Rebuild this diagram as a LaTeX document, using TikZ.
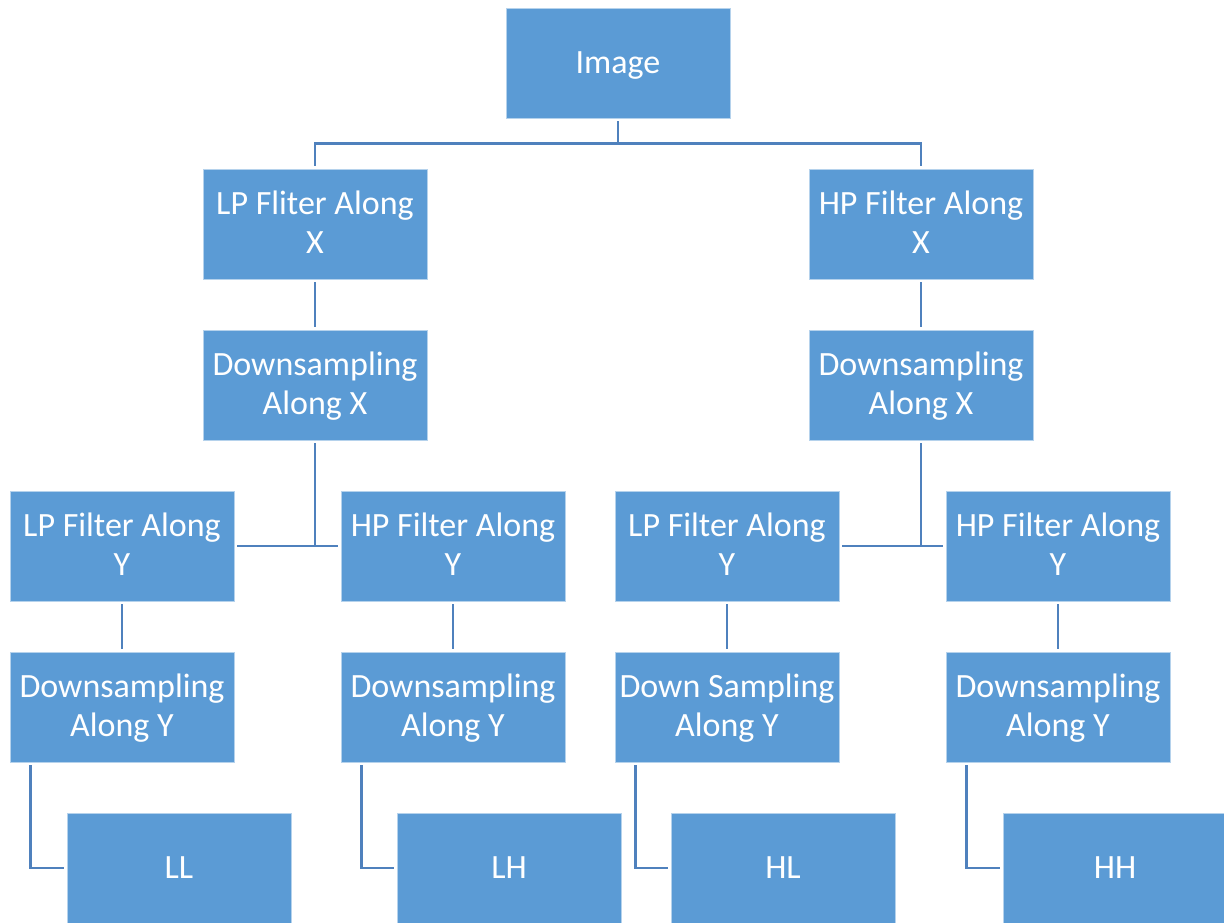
\documentclass[tikz,border=0pt]{standalone}
\usepackage{fontspec}
\setmainfont{Carlito}
\usetikzlibrary{calc}
\definecolor{boxblue}{HTML}{5B9BD5}
\definecolor{linkblue}{HTML}{4F81BD}
% fixed line strut, so every label is centred by its line metrics
\newcommand\linestrut{\rule[-8pt]{0pt}{36pt}}
\newcommand\lbl[1]{\linestrut#1\linestrut}
\tikzset{
  stage/.style={rectangle, fill=boxblue, draw=white!55!boxblue, line width=0.8pt,
    minimum width=224pt, minimum height=110pt, inner sep=0pt, align=center,
    text=white, font=\fontsize{34}{39}\selectfont},
  link/.style={draw=linkblue, line width=2.4pt, shorten <=3pt, shorten >=3pt}
}
\begin{document}
\begin{tikzpicture}[x=1pt, y=-1pt]
  \useasboundingbox (0,0) rectangle (1224,922);
  \clip (0,0) rectangle (1224,922);

  % top level
  \node[stage] (img) at (618,63) {\lbl{Image}};

  % first pass along X
  \node[stage] (lpx) at (315,224) {\lbl{LP Fliter Along\\X}};
  \node[stage] (hpx) at (921,224) {\lbl{HP Filter Along\\X}};
  \node[stage] (dsxl) at (315,385) {\lbl{Downsampling\\Along X}};
  \node[stage] (dsxr) at (921,385) {\lbl{Downsampling\\Along X}};

  % second pass along Y
  \node[stage] (lpy1) at (122,546) {\lbl{LP Filter Along\\Y}};
  \node[stage] (hpy1) at (453,546) {\lbl{HP Filter Along\\Y}};
  \node[stage] (lpy2) at (727,546) {\lbl{LP Filter Along\\Y}};
  \node[stage] (hpy2) at (1058,546) {\lbl{HP Filter Along\\Y}};
  \node[stage] (dsy1) at (122,707) {\lbl{Downsampling\\Along Y}};
  \node[stage] (dsy2) at (453,707) {\lbl{Downsampling\\Along Y}};
  \node[stage] (dsy3) at (727,707) {\lbl{Down Sampling\\Along Y}};
  \node[stage] (dsy4) at (1058,707) {\lbl{Downsampling\\Along Y}};

  % sub-bands
  \node[stage] (ll) at (179,868) {\lbl{LL}};
  \node[stage] (lh) at (509,868) {\lbl{LH}};
  \node[stage] (hl) at (783,868) {\lbl{HL}};
  \node[stage] (hh) at (1115,868) {\lbl{HH}};

  % connectors
  \draw[link] (img.south) -- ++(0,25) -| (lpx.north);
  \draw[link] (img.south) -- ++(0,25) -| (hpx.north);
  \draw[link] (lpx) -- (dsxl);
  \draw[link] (hpx) -- (dsxr);
  \draw[link] (dsxl.south) |- (lpy1.east);
  \draw[link] (dsxl.south) |- (hpy1.west);
  \draw[link] (dsxr.south) |- (lpy2.east);
  \draw[link] (dsxr.south) |- (hpy2.west);
  \draw[link] (lpy1) -- (dsy1);
  \draw[link] (hpy1) -- (dsy2);
  \draw[link] (lpy2) -- (dsy3);
  \draw[link] (hpy2) -- (dsy4);
  \draw[link] ($(dsy1.south west)+(21,0)$) |- (ll.west);
  \draw[link] ($(dsy2.south west)+(21,0)$) |- (lh.west);
  \draw[link] ($(dsy3.south west)+(21,0)$) |- (hl.west);
  \draw[link] ($(dsy4.south west)+(21,0)$) |- (hh.west);
\end{tikzpicture}
\end{document}
